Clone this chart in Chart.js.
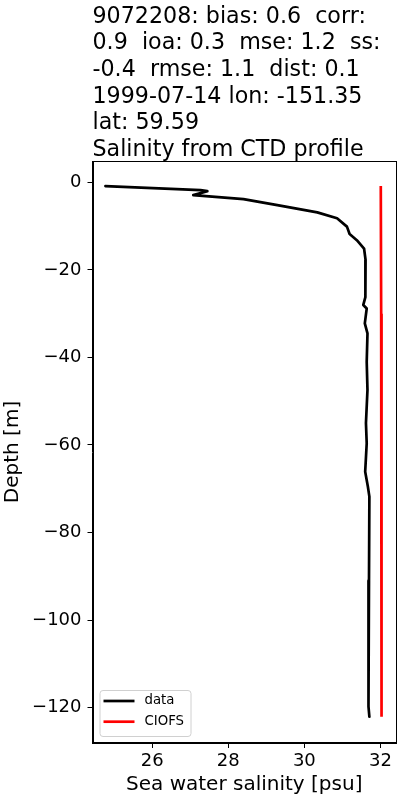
<!DOCTYPE html>
<html>
<head>
<meta charset="utf-8">
<script src="https://cdn.jsdelivr.net/npm/chart.js@4/dist/chart.umd.min.js"></script>
<style>
  html, body { margin: 0; padding: 0; background: #fff; }
  canvas { display: block; }
</style>
</head>
<body>
<canvas id="profile" width="400" height="800"></canvas>
<script>
// observed CTD profile (salinity vs depth)
const obsSalinity = [24.77, 27.27, 27.45, 27.08, 28.40, 29.29, 30.34, 30.86, 31.12, 31.19,
                     31.38, 31.57, 31.61, 31.61, 31.60, 31.55, 31.64, 31.59, 31.66, 31.64,
                     31.66, 31.62, 31.64, 31.60, 31.67, 31.71, 31.70, 31.68, 31.70, 31.68, 31.71];
const obsDepth = [-0.85, -1.76, -2.0, -2.9, -3.8, -5.2, -6.85, -8.2, -10.1, -11.8,
                  -13.2, -15.1, -17.7, -23.8, -26.2, -28.0, -28.8, -32.2, -34.5, -41.0,
                  -47.4, -55.0, -59.6, -66.1, -69.5, -71.8, -91.0, -100.1, -110.6, -119.8, -122.1];

// CIOFS model profile
const modelSalinity = [32.01, 32.02, 32.02, 32.03, 32.04];
const modelDepth = [-0.8, -30, -60, -90, -122.1];

const xTicks = [26, 28, 30, 32];
const yTicks = [-120, -100, -80, -60, -40, -20, 0];

const titleLines = [
    '9072208: bias: 0.6  corr:',
    '0.9  ioa: 0.3  mse: 1.2  ss:',
    '-0.4  rmse: 1.1  dist: 0.1',
    '1999-07-14 lon: -151.35',
    'lat: 59.59',
    'Salinity from CTD profile'
];

const FONT = '"DejaVu Sans", sans-serif';

const toPoints = (xs, ys) => xs.map((x, i) => ({ x: x, y: ys[i] }));

const decor = {
    id: 'decor',
    afterDraw(chart) {
        const ctx = chart.ctx;
        const a = chart.chartArea;
        ctx.save();

        // axes frame
        ctx.strokeStyle = '#000';
        ctx.lineWidth = 1;
        ctx.strokeRect(Math.round(a.left) + 0.5, Math.round(a.top) + 0.5,
                       Math.round(a.right - a.left) - 1, Math.round(a.bottom - a.top) - 1);

        // title block
        ctx.fillStyle = '#000';
        ctx.font = '22.2px ' + FONT;
        ctx.textBaseline = 'alphabetic';
        ctx.textAlign = 'left';
        titleLines.forEach((line, i) => ctx.fillText(line, a.left, 22.7 + i * 26.65));

        // legend in lower left corner
        const bx = a.left + 7, by = a.bottom - 53, bw = 91, bh = 46;
        ctx.beginPath();
        ctx.roundRect(bx + 0.5, by + 0.5, bw, bh, 3);
        ctx.fillStyle = 'rgba(255,255,255,0.8)';
        ctx.fill();
        ctx.strokeStyle = '#d0d0d0';
        ctx.lineWidth = 1;
        ctx.stroke();

        ctx.font = '13.3px ' + FONT;
        ctx.textBaseline = 'middle';
        chart.data.datasets.forEach((ds, i) => {
            const y = by + 11 + i * 20.7;
            ctx.beginPath();
            ctx.moveTo(bx + 4, y);
            ctx.lineTo(bx + 35, y);
            ctx.strokeStyle = ds.borderColor;
            ctx.lineWidth = 2.7;
            ctx.stroke();
            ctx.fillStyle = '#000';
            ctx.fillText(ds.label, bx + 45, y);
        });
        ctx.restore();
    }
};

new Chart(document.getElementById('profile'), {
    type: 'scatter',
    data: {
        datasets: [
            {
                label: 'data',
                data: toPoints(obsSalinity, obsDepth),
                showLine: true,
                borderColor: '#000000',
                borderWidth: 2.7,
                borderJoinStyle: 'round',
                borderCapStyle: 'round',
                pointRadius: 0,
                tension: 0
            },
            {
                label: 'CIOFS',
                data: toPoints(modelSalinity, modelDepth),
                showLine: true,
                borderColor: '#ff0000',
                borderWidth: 2.7,
                pointRadius: 0,
                tension: 0
            }
        ]
    },
    options: {
        responsive: false,
        animation: false,
        events: [],
        layout: { padding: { top: 161, right: 4, left: 0, bottom: 0 } },
        plugins: {
            legend: { display: false },
            tooltip: { enabled: false },
            title: { display: false }
        },
        scales: {
            x: {
                type: 'linear',
                min: 24.43,
                max: 32.41,
                afterBuildTicks: s => { s.ticks = xTicks.map(v => ({ value: v })); },
                afterFit: s => { s.height = 57; },
                grid: { drawOnChartArea: false, drawTicks: true, tickLength: 5, color: '#000' },
                border: { display: true, color: '#000' },
                ticks: { color: '#000', padding: 3, font: { family: FONT, size: 18 }, maxRotation: 0 },
                title: {
                    display: true,
                    text: 'Sea water salinity [psu]',
                    color: '#000',
                    font: { family: FONT, size: 20 },
                    padding: { top: 0, bottom: 3 }
                }
            },
            y: {
                type: 'linear',
                min: -128.1,
                max: 4.9,
                afterBuildTicks: s => { s.ticks = yTicks.map(v => ({ value: v })); },
                afterFit: s => { s.width = 92.5; },
                grid: { drawOnChartArea: false, drawTicks: true, tickLength: 5, color: '#000' },
                border: { display: true, color: '#000' },
                ticks: {
                    color: '#000',
                    padding: 6,
                    font: { family: FONT, size: 18 },
                    callback: v => (v < 0 ? '\u2212' + Math.abs(v) : String(v))
                },
                title: {
                    display: true,
                    text: 'Depth [m]',
                    color: '#000',
                    font: { family: FONT, size: 20 },
                    padding: { top: 1, bottom: 0 }
                }
            }
        }
    },
    plugins: [decor]
});
</script>
</body>
</html>
